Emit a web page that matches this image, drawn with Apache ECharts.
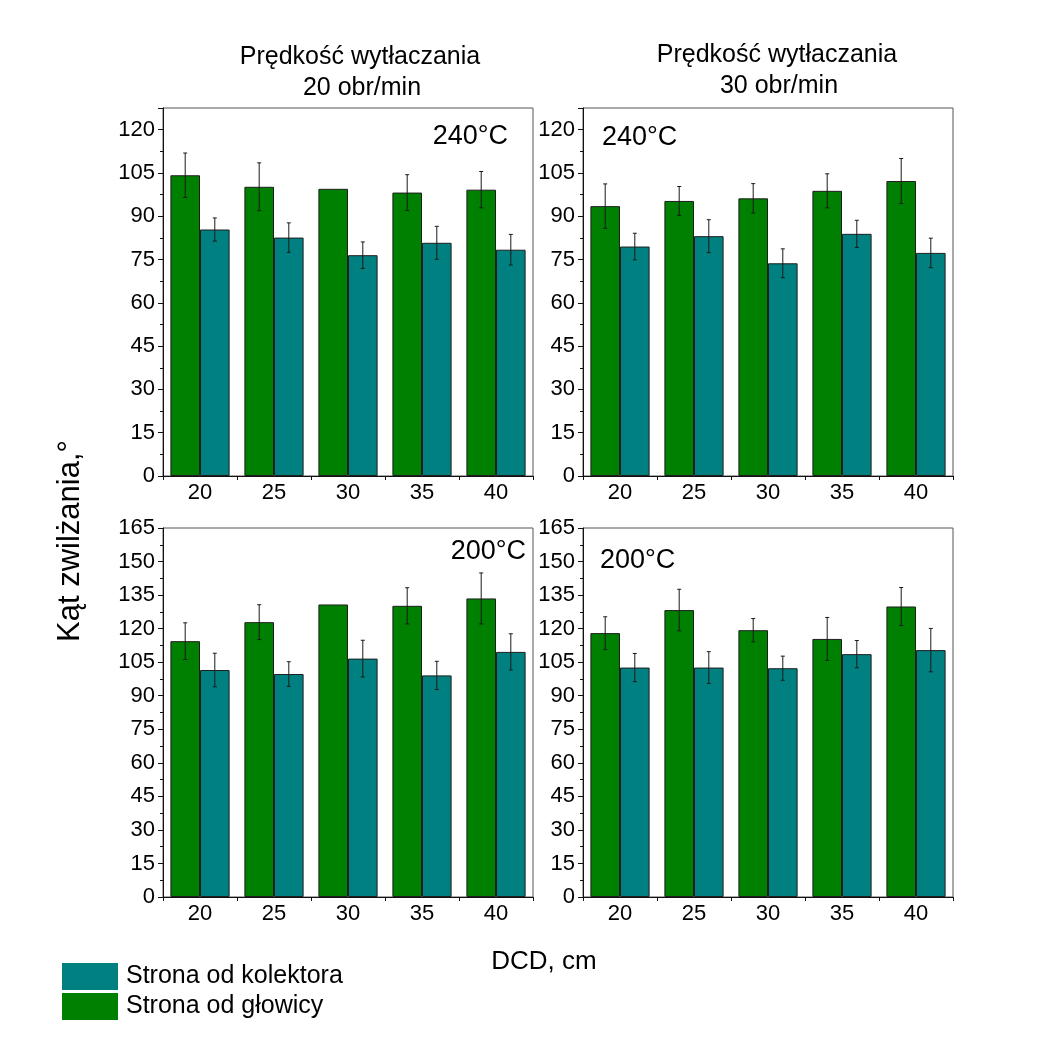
<!DOCTYPE html>
<html>
<head>
<meta charset="utf-8">
<script src="https://cdn.jsdelivr.net/npm/echarts@6/dist/echarts.min.js"></script>
<style>
  html, body { margin: 0; padding: 0; background: #fff; }
  #chart { width: 1046px; height: 1042px; }
</style>
</head>
<body>
<div id="chart"></div>
<script>
// DCD categories (cm)
const dcd = ['20', '25', '30', '35', '40'];

// Contact angle, 240 °C, 20 obr/min
const head240v20 = [104.2, 100.2, 99.5, 98.2, 99.2];
const headErr240v20 = [7.7, 8.3, 0, 6.2, 6.3];
const coll240v20 = [85.4, 82.6, 76.5, 80.8, 78.4];
const collErr240v20 = [4.0, 5.1, 4.6, 5.7, 5.3];

// Contact angle, 240 °C, 30 obr/min
const head240v30 = [93.5, 95.3, 96.2, 98.8, 102.2];
const headErr240v30 = [7.7, 5.0, 5.1, 5.9, 7.8];
const coll240v30 = [79.5, 83.1, 73.7, 83.9, 77.3];
const collErr240v30 = [4.6, 5.7, 5.0, 4.7, 5.1];

// Contact angle, 200 °C, 20 obr/min
const head200v20 = [114.4, 122.9, 130.8, 130.2, 133.5];
const headErr200v20 = [8.2, 7.8, 0, 8.1, 11.4];
const coll200v20 = [101.5, 99.7, 106.6, 99.1, 109.6];
const collErr200v20 = [7.5, 5.5, 8.2, 6.3, 8.1];

// Contact angle, 200 °C, 30 obr/min
const head200v30 = [118.0, 128.3, 119.3, 115.4, 129.9];
const headErr200v30 = [7.3, 9.3, 5.2, 9.6, 8.5];
const coll200v30 = [102.6, 102.6, 102.3, 108.6, 110.4];
const collErr200v30 = [6.3, 7.1, 5.4, 6.1, 9.7];

const HEAD = 'Strona od głowicy';
const COLL = 'Strona od kolektora';
const FONT = '"Liberation Sans", Arial, sans-serif';

const panels = [
  { grid: { left: 163, top: 108, width: 370, height: 368 }, max: 127.5,
    head: head240v20, headErr: headErr240v20, coll: coll240v20, collErr: collErr240v20 },
  { grid: { left: 583, top: 108, width: 370, height: 368 }, max: 127.5,
    head: head240v30, headErr: headErr240v30, coll: coll240v30, collErr: collErr240v30 },
  { grid: { left: 163, top: 528, width: 370, height: 369 }, max: 165,
    head: head200v20, headErr: headErr200v20, coll: coll200v20, collErr: collErr200v20 },
  { grid: { left: 583, top: 528, width: 370, height: 369 }, max: 165,
    head: head200v30, headErr: headErr200v30, coll: coll200v30, collErr: collErr200v30 }
];

// Vertical error bar with caps, shifted onto the left (-1) or right (+1) bar
function errorBarRenderer(side) {
  return function (params, api) {
    const idx = api.value(0);
    const val = api.value(1);
    const err = api.value(2);
    if (!err) return;
    const band = api.size([1, 0])[0];
    const hi = api.coord([idx, val + err]);
    const lo = api.coord([idx, val - err]);
    const x = hi[0] + side * band * 0.2;
    const cap = 2;
    const style = { stroke: '#1a1a1a', lineWidth: 1 };
    return {
      type: 'group',
      children: [
        { type: 'line', shape: { x1: x, y1: hi[1], x2: x, y2: lo[1] }, style: style },
        { type: 'line', shape: { x1: x - cap, y1: hi[1], x2: x + cap, y2: hi[1] }, style: style },
        { type: 'line', shape: { x1: x - cap, y1: lo[1], x2: x + cap, y2: lo[1] }, style: style }
      ]
    };
  };
}

const grids = [], xAxes = [], yAxes = [], series = [];
panels.forEach(function (p, i) {
  grids.push(Object.assign({ show: true, borderColor: '#555', borderWidth: 1 }, p.grid));
  xAxes.push({
    type: 'category', gridIndex: i, data: dcd,
    axisLine: { lineStyle: { color: '#111', width: 1 } },
    axisTick: { show: true, length: 4, lineStyle: { color: '#111' } },
    axisLabel: { color: '#000', fontSize: 22, fontFamily: FONT, margin: 6 }
  });
  yAxes.push({
    type: 'value', gridIndex: i, min: 0, max: p.max, interval: 15,
    splitLine: { show: false },
    axisLine: { show: true, lineStyle: { color: '#111', width: 1 } },
    axisTick: { show: true, length: 5, lineStyle: { color: '#111' } },
    minorTick: { show: true, splitNumber: 2, length: 3, lineStyle: { color: '#111' } },
    axisLabel: {
      color: '#000', fontSize: 22, fontFamily: FONT, margin: 8,
      formatter: function (v) { return v % 15 === 0 ? String(v) : ''; }
    }
  });
  const barStyle = function (c) { return { color: c, borderColor: '#1e1e1e', borderWidth: 1 }; };
  series.push({
    name: HEAD, type: 'bar', xAxisIndex: i, yAxisIndex: i, data: p.head,
    barGap: '0%', barCategoryGap: '20%', itemStyle: barStyle('#008000'), z: 2
  });
  series.push({
    name: COLL, type: 'bar', xAxisIndex: i, yAxisIndex: i, data: p.coll,
    barGap: '0%', barCategoryGap: '20%', itemStyle: barStyle('#008080'), z: 2
  });
  series.push({
    type: 'custom', xAxisIndex: i, yAxisIndex: i, z: 5, silent: true,
    renderItem: errorBarRenderer(-1),
    data: dcd.map(function (c, k) { return [k, p.head[k], p.headErr[k]]; })
  });
  series.push({
    type: 'custom', xAxisIndex: i, yAxisIndex: i, z: 5, silent: true,
    renderItem: errorBarRenderer(1),
    data: dcd.map(function (c, k) { return [k, p.coll[k], p.collErr[k]]; })
  });
});

function label(text, x, y, size, align, extra) {
  return Object.assign({
    type: 'text', x: x, y: y, silent: true,
    style: { text: text, fontSize: size, fontFamily: FONT, fill: '#000',
             textAlign: align, textVerticalAlign: 'middle' }
  }, extra || {});
}

const chart = echarts.init(document.getElementById('chart'), null, { renderer: 'canvas' });
chart.setOption({
  backgroundColor: '#ffffff',
  animation: false,
  grid: grids,
  xAxis: xAxes,
  yAxis: yAxes,
  series: series,
  legend: {
    data: [COLL, HEAD],
    orient: 'vertical', left: 57, top: 958,
    icon: 'rect', itemWidth: 56, itemHeight: 27, itemGap: 3,
    textStyle: { fontSize: 25, fontFamily: FONT, color: '#000', padding: [0, 0, 0, 3] },
    itemStyle: { borderWidth: 0 },
    selectedMode: false
  },
  graphic: [
    label('Prędkość wytłaczania', 360, 57, 25, 'center'),
    label('20 obr/min', 362, 88, 25, 'center'),
    label('Prędkość wytłaczania', 777, 55, 25, 'center'),
    label('30 obr/min', 779, 86, 25, 'center'),
    label('240°C', 508, 137, 27, 'right'),
    label('240°C', 602, 138, 27, 'left'),
    label('200°C', 526, 552, 27, 'right'),
    label('200°C', 600, 561, 27, 'left'),
    label('DCD, cm', 544, 962, 26, 'center'),
    label('Kąt zwilżania,°', 70, 541, 31, 'center', { rotation: Math.PI / 2 })
  ]
});
</script>
</body>
</html>
